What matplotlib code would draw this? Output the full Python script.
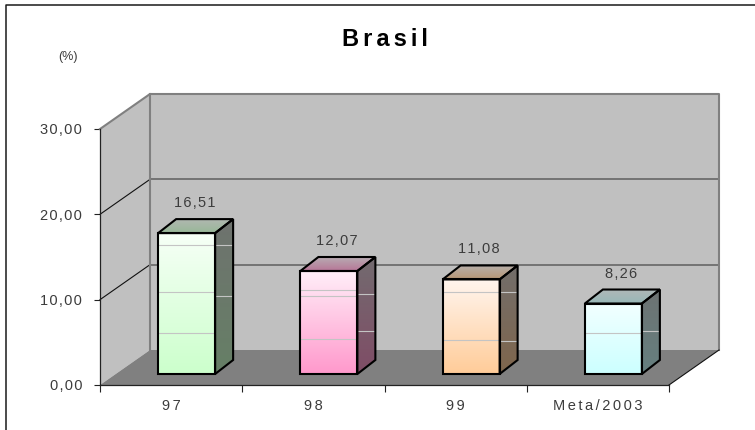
import matplotlib
matplotlib.use('agg')
import matplotlib.pyplot as plt
from matplotlib.lines import Line2D
from matplotlib.patches import Polygon
import numpy as np

categories = ['97', '98', '99', 'Meta/2003']
values = [16.51, 12.07, 11.08, 8.26]
value_labels = ['16,51', '12,07', '11,08', '8,26']
y_ticks = [0, 10, 20, 30]
y_tick_labels = ['0,00', '10,00', '20,00', '30,00']
top_colors = ['#f6fff6', '#ffeef8', '#fff5ee', '#f2ffff']
bottom_colors = ['#ccffcc', '#ff99cc', '#ffcc99', '#ccffff']
# pale bands that run across the faces, as value heights
front_bands = [[15.1, 9.6, 4.8], [9.85, 9.15, 4.1], [9.6, 4.0], [4.8]]
side_bands = [[15.1, 9.15], [9.4, 5.0], [9.6, 3.9], [5.0]]

W, H = 755, 430
HAIR = '\u200a'


def spaced(s, n=1):
    return (HAIR * n).join(s)


plt.rcParams['font.family'] = ['Liberation Sans', 'DejaVu Sans']

fig = plt.figure(figsize=(W / 100, H / 100), dpi=100)
# the frame only shows on the left and the top, the rest is cropped away
fig.add_artist(Line2D([6 / W, 6 / W, 1], [0, 1 - 4.5 / H, 1 - 4.5 / H], color='#1a1a1a', lw=1.1,
                      transform=fig.transFigure))

ax = fig.add_axes([100 / W, 1 - 385 / H, 569 / W, 256 / H])
ax.set_xlim(0, 4)
ax.set_ylim(0, 30)
ax.patch.set_visible(False)

# depth of the 3d box, in data units
unit_x = 569 / 4
unit_y = 256 / 30
DX = 50 / unit_x
DY = 35 / unit_y
bar_w = 57 / unit_x
bar_dx = 18 / unit_x
bar_dy = 14 / unit_y
front_dx = 15.5 / unit_x
front_dy = 11 / unit_y


def poly(pts, **kw):
    p = Polygon(pts, closed=True, clip_on=False, **kw)
    ax.add_patch(p)
    return p


def rgb(c):
    return np.array(matplotlib.colors.to_rgb(c))


def gradient(c_top, c_bot, extent, clip_pts, z):
    t = np.linspace(0, 1, 64)[:, None, None]
    img = (1 - t) * c_top + t * c_bot
    im = ax.imshow(img, extent=extent, aspect='auto', origin='upper', zorder=z,
                   interpolation='bilinear', clip_on=True)
    clip = Polygon(clip_pts, closed=True, transform=ax.transData, fc='none', ec='none')
    ax.add_patch(clip)
    im.set_clip_path(clip)


# walls and floor
poly([(0, 0), (DX, DY), (DX, 30 + DY), (0, 30)], fc='#c0c0c0', ec='none', zorder=1)
poly([(DX, DY), (4 + DX, DY), (4 + DX, 30 + DY), (DX, 30 + DY)], fc='#c0c0c0', ec='none', zorder=1)
poly([(0, 0), (4, 0), (4 + DX, DY), (DX, DY)], fc='#808080', ec='none', zorder=1)

for t in y_ticks[1:-1]:
    ax.plot([0, DX], [t, t + DY], color='#111111', lw=0.8, clip_on=False, zorder=2)
    ax.plot([DX, 4 + DX], [t + DY, t + DY], color='#666666', lw=1.2, clip_on=False, zorder=2)
grey = dict(color='#808080', lw=1.5, clip_on=False, zorder=2)
ax.plot([0, DX, 4 + DX, 4 + DX], [30, 30 + DY, 30 + DY, DY], **grey)
ax.plot([DX, DX], [DY, 30 + DY], **grey)
ax.plot([4, 4 + DX], [0, DY], color='#111111', lw=0.8, clip_on=False, zorder=2)

# bars
for i, v in enumerate(values):
    x0 = i + 0.5 - bar_w / 2 + front_dx
    x1 = x0 + bar_w
    y0 = front_dy
    y1 = y0 + v
    ct = rgb(top_colors[i])
    cb = rgb(bottom_colors[i])
    front = [(x0, y0), (x1, y0), (x1, y1), (x0, y1)]
    side = [(x1, y0), (x1 + bar_dx, y0 + bar_dy), (x1 + bar_dx, y1 + bar_dy), (x1, y1)]
    top = [(x0, y1), (x1, y1), (x1 + bar_dx, y1 + bar_dy), (x0 + bar_dx, y1 + bar_dy)]
    gradient(ct, cb, (x0, x1, y0, y1), front, 3)
    gradient(ct * 0.45, cb * 0.5, (x1, x1 + bar_dx, y0, y1 + bar_dy), side, 3)
    gradient(ct * 0.72, cb * 0.72 + (ct - cb) * 0.1, (x0, x1 + bar_dx, y1, y1 + bar_dy), top, 3)
    for b in front_bands[i]:
        ax.plot([x0, x1], [y0 + b, y0 + b], color='#c4c4c4', lw=0.8, clip_on=False, zorder=4)
    for b in side_bands[i]:
        ax.plot([x1, x1 + bar_dx], [y0 + b, y0 + b], color='#c4c4c4', lw=0.8, clip_on=False, zorder=4)
    for pts in (front, side, top):
        poly(pts, fc='none', ec='black', lw=1.5, joinstyle='miter', zorder=5)
    ax.text(i + 0.5 + front_dx + bar_dx / 2 - 1 / unit_x, y1 + bar_dy + 1.05, spaced(value_labels[i]), ha='center',
            va='bottom', fontsize=10.5, color='#3c3c3c', zorder=6)

ax.set_xlim(0, 4)
ax.set_ylim(0, 30)

# axes
for s in ['top', 'right']:
    ax.spines[s].set_visible(False)
for s in ['left', 'bottom']:
    ax.spines[s].set_color('#222222')
    ax.spines[s].set_linewidth(0.9)
    ax.spines[s].set_zorder(2.5)
ax.set_yticks(y_ticks)
ax.set_yticklabels([spaced(s) for s in y_tick_labels], fontsize=10.5, color='#3c3c3c')
ax.set_xticks(range(5))
ax.set_xticklabels([])
ax.set_xticks(np.arange(4) + 0.5, minor=True)
ax.set_xticklabels([spaced(c, 2) for c in categories], minor=True, fontsize=10.5, color='#3c3c3c')
ax.tick_params(axis='x', which='minor', length=0, pad=10)
ax.tick_params(axis='x', which='major', length=5, width=0.8, color='#222222')
ax.tick_params(axis='y', length=4.3, width=0.8, color='#222222', pad=8.6)

fig.text(385 / W, 1 - 40 / H, spaced('Brasil', 2), ha='center', va='center', fontsize=17, fontweight='bold',
         color='black')
fig.text(68 / W, 1 - 57 / H, '(%)', ha='center', va='center', fontsize=9, color='#3c3c3c')

fig.savefig('out.png', dpi=100)
